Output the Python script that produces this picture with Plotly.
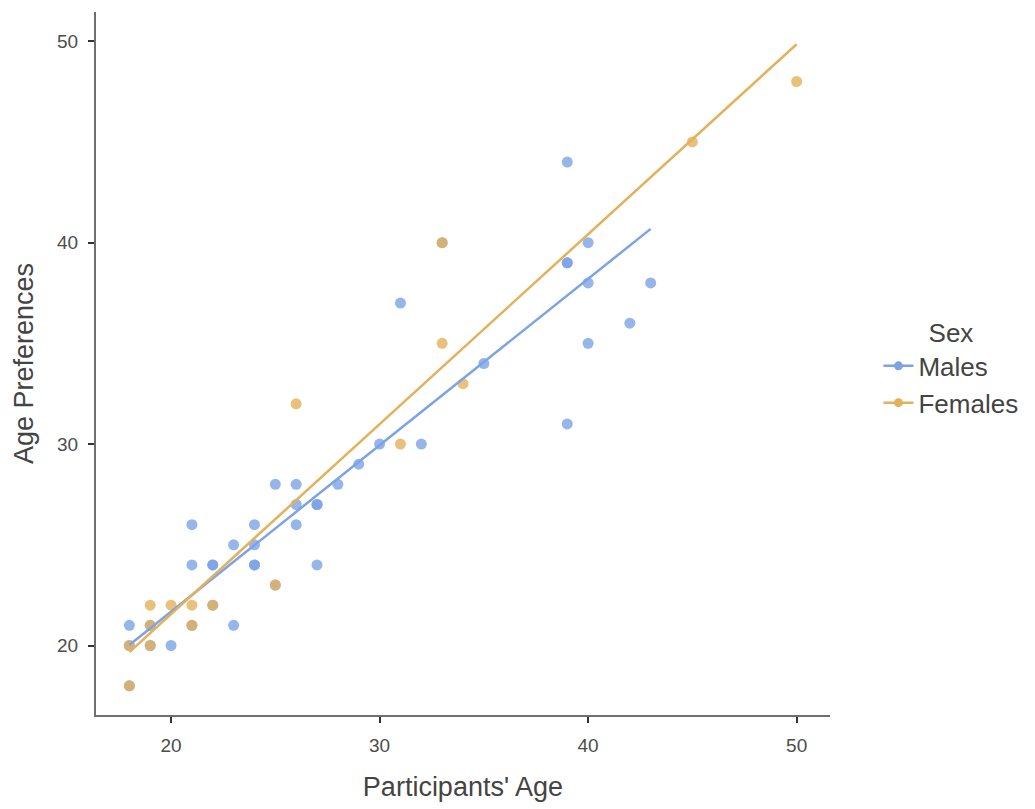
import numpy as np
import plotly.graph_objects as go

# ---- data ----
male_age = [18, 18, 18, 19, 19, 20, 21, 21, 21, 22, 22, 22, 23, 23, 24, 24, 24, 24,
            25, 25, 26, 26, 26, 27, 27, 27, 28, 29, 30, 31, 32, 33, 35, 39, 39, 39,
            39, 40, 40, 40, 42, 43]
male_pref = [21, 20, 18, 20, 21, 20, 26, 24, 21, 24, 24, 22, 25, 21, 26, 25, 24, 24,
             28, 23, 28, 27, 26, 27, 27, 24, 28, 29, 30, 37, 30, 40, 34, 44, 39, 39,
             31, 40, 38, 35, 36, 38]
female_age = [18, 18, 19, 19, 19, 20, 21, 21, 22, 25, 26, 31, 33, 33, 34, 45, 50]
female_pref = [18, 20, 20, 21, 22, 22, 22, 21, 22, 23, 32, 30, 35, 40, 33, 45, 48]

x_ticks = [20, 30, 40, 50]
y_ticks = [20, 30, 40, 50]

BLUE = "#7BA3E6"
ORANGE = "#E3B15A"
FONT = "Liberation Sans, Arial"

fig = go.Figure()

def add_group(xs, ys, color):
    fig.add_trace(go.Scatter(x=xs, y=ys, mode="markers", showlegend=False,
                             marker=dict(color=color, size=11, opacity=0.8,
                                         line=dict(width=0)),
                             hoverinfo="x+y"))

def add_fit(xs, ys, color):
    xs = np.array(xs, float); ys = np.array(ys, float)
    b, a = np.polyfit(xs, ys, 1)
    xl = np.array([xs.min(), xs.max()])
    fig.add_trace(go.Scatter(x=xl, y=a + b * xl, mode="lines", showlegend=False,
                             line=dict(color=color, width=2.5)))

add_group(male_age, male_pref, BLUE)
add_group(female_age, female_pref, ORANGE)
add_fit(male_age, male_pref, BLUE)
add_fit(female_age, female_pref, ORANGE)

for name, color in [("Males", BLUE), ("Females", ORANGE)]:
    fig.add_trace(go.Scatter(x=[None], y=[None], mode="lines+markers", name=name,
                             line=dict(color=color, width=2.5),
                             marker=dict(color=color, size=9)))

axis_common = dict(showgrid=False, zeroline=False, showline=True, linecolor="#6E6E6E",
                   linewidth=2, ticks="outside", ticklen=6, tickcolor="#333333",
                   tickwidth=1.5, ticklabelstandoff=6,
                   tickfont=dict(size=19, color="#4D4D4D", family=FONT),
                   title_font=dict(size=27, color="#444444", family=FONT))

fig.update_xaxes(range=[16.4, 51.6], tickvals=x_ticks, title_text="Participants' Age",
                 title_standoff=22, **axis_common)
fig.update_yaxes(range=[16.55, 51.45], tickvals=y_ticks, title_text="Age Preferences",
                 title_standoff=16, **axis_common)

fig.update_layout(
    width=1035, height=809,
    margin=dict(l=96, r=203, t=12, b=91),
    plot_bgcolor="white", paper_bgcolor="white",
    font=dict(family=FONT, color="#444444"),
    legend=dict(title=dict(text="Sex", side="top center", font=dict(size=26)),
                font=dict(size=26, color="#444444"),
                x=1.066, xanchor="left", y=0.578, yanchor="top",
                itemwidth=30, tracegroupgap=0, bgcolor="rgba(0,0,0,0)"),
)

fig.write_html("out.html")
